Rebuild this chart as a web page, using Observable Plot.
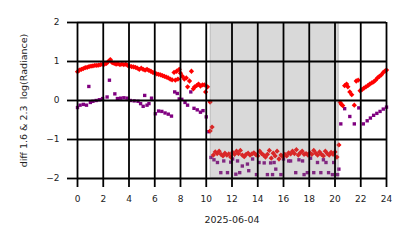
<!DOCTYPE html>
<html>
<head>
<meta charset="utf-8">
<script src="https://cdn.jsdelivr.net/npm/d3@7"></script>
<script src="https://cdn.jsdelivr.net/npm/@observablehq/plot@0.6"></script>
<style>
  html, body { margin: 0; padding: 0; background: #fff; }
  svg { font-family: "DejaVu Sans", sans-serif; }
</style>
</head>
<body>
<div id="chart"></div>
<script>
// ---- data (hour of day, value) ----
const redHours = [
  0.0,0.15,0.3,0.45,0.6,0.75,0.9,1.05,1.2,1.35,1.5,1.65,1.8,1.95,2.1,2.25,2.4,2.55,2.7,2.85,
  3.0,3.15,3.3,3.45,3.6,3.75,3.9,4.05,4.2,4.35,4.5,4.65,4.8,4.95,5.1,5.25,5.4,5.55,5.7,5.85,
  6.0,6.15,6.3,6.45,6.6,6.75,6.9,7.05,7.2,7.35,7.5,7.6,7.7,7.8,7.9,8.0,8.15,8.3,8.45,8.55,
  8.7,8.85,9.0,9.1,9.25,9.4,9.55,9.7,9.85,9.95,10.1,10.3,10.3,10.45,
  10.55,10.7,10.85,11.0,11.15,11.3,11.45,11.6,11.75,11.9,12.05,12.2,12.35,12.5,12.65,12.8,12.95,
  13.1,13.25,13.4,13.55,13.7,13.85,14.0,14.15,14.3,14.45,14.6,14.75,14.9,15.05,15.2,15.35,15.5,
  15.65,15.8,15.95,16.1,16.25,16.4,16.55,16.7,16.85,17.0,17.15,17.3,17.45,17.6,17.75,17.9,18.05,
  18.2,18.35,18.5,18.65,18.8,18.95,19.1,19.25,19.4,19.55,19.7,19.85,20.0,20.15,
  20.3,20.4,20.5,20.6,20.75,20.9,21.0,21.15,21.3,21.5,21.65,21.8,21.95,22.1,22.25,22.4,22.55,
  22.7,22.85,23.0,23.15,23.3,23.45,23.6,23.75,23.9,24.0
];
const redValues = [
  0.74,0.78,0.80,0.82,0.84,0.85,0.87,0.88,0.89,0.90,0.90,0.91,0.92,0.93,0.93,0.95,1.00,1.05,0.97,0.95,
  0.93,0.94,0.92,0.93,0.92,0.93,0.90,0.88,0.87,0.86,0.85,0.83,0.80,0.83,0.80,0.78,0.80,0.77,0.75,0.72,
  0.70,0.68,0.67,0.66,0.64,0.62,0.60,0.58,0.55,0.53,0.72,0.52,0.75,0.55,0.80,0.70,0.62,0.55,0.58,0.35,
  0.50,0.75,0.30,0.35,0.38,0.42,0.37,0.40,0.40,0.22,0.35,-0.04,-0.78,-0.68,
  -1.40,-1.32,-1.36,-1.30,-1.38,-1.42,-1.35,-1.40,-1.37,-1.45,-1.33,-1.38,-1.30,-1.36,-1.28,-1.40,-1.44,
  -1.38,-1.35,-1.40,-1.37,-1.34,-1.39,-1.42,-1.30,-1.36,-1.40,-1.45,-1.38,-1.28,-1.48,-1.35,-1.42,-1.30,
  -1.50,-1.40,-1.44,-1.38,-1.42,-1.34,-1.37,-1.30,-1.36,-1.26,-1.40,-1.34,-1.30,-1.38,-1.36,-1.40,-1.34,
  -1.38,-1.28,-1.35,-1.40,-1.32,-1.38,-1.42,-1.30,-1.36,-1.40,-1.33,-1.38,-1.32,-1.45,
  -1.14,-0.05,-0.10,-0.13,0.38,0.42,0.35,0.22,0.15,-0.12,0.50,0.52,0.25,0.28,0.32,0.35,0.38,
  0.42,0.45,0.48,0.52,0.58,0.62,0.66,0.72,0.76,0.78
];
const purpleHours = [
  0.0,0.2,0.45,0.7,0.88,1.0,1.2,1.45,1.7,1.95,2.3,2.48,2.9,3.1,3.35,3.6,3.85,4.1,4.4,4.7,
  4.9,5.1,5.22,5.4,5.55,5.75,6.05,6.3,6.55,6.8,7.05,7.3,7.55,7.75,7.9,8.1,8.35,8.55,8.8,9.05,
  9.3,9.55,9.75,10.0,10.2,
  10.37,10.6,10.87,11.13,11.36,11.65,11.9,12.05,12.3,12.43,12.6,12.8,13.2,13.3,13.6,13.9,14.1,
  14.5,14.75,15.0,15.15,15.27,15.4,15.8,16.0,16.4,16.55,16.95,17.2,17.48,17.6,17.85,18.1,18.35,
  18.64,18.9,19.1,19.3,19.5,19.8,19.9,20.2,20.3,
  20.45,20.75,21.15,21.5,21.85,22.2,22.5,22.75,23.0,23.25,23.5,23.75,24.0
];
const purpleValues = [
  -0.18,-0.12,-0.10,-0.12,0.36,-0.05,-0.02,0.0,0.02,0.05,0.09,0.52,0.17,0.05,0.06,0.07,0.06,0.0,-0.01,-0.02,
  -0.08,-0.15,0.13,-0.12,-0.08,0.06,-0.34,-0.27,-0.28,-0.32,-0.35,-0.40,0.22,0.18,0.04,0.03,-0.05,-0.12,0.22,-0.20,
  -0.24,-0.30,-0.26,-0.42,-0.80,
  -1.46,-1.52,-1.59,-1.85,-1.55,-1.85,-1.58,-1.50,-1.89,-1.55,-1.85,-1.68,-1.63,-1.80,-1.50,-1.90,-1.59,
  -1.60,-1.90,-1.60,-1.90,-1.59,-1.76,-1.90,-1.50,-1.55,-1.55,-1.85,-1.52,-1.55,-1.90,-1.85,-1.48,-1.85,
  -1.59,-1.85,-1.52,-1.59,-1.85,-1.90,-1.59,-1.90,-1.76,
  -0.60,-0.21,-0.41,-0.60,-0.19,-0.60,-0.52,-0.45,-0.38,-0.33,-0.28,-0.22,-0.17
];
const nightSpan = [10.35, 20.3];
const xTicks = [0,2,4,6,8,10,12,14,16,18,20,22,24];
const yTicks = [-2,-1,0,1,2];
const xLabel = "2025-06-04";
const yLabel = "diff 1.6 & 2.3  log(Radiance)";

const red = redHours.map((h, i) => ({h, v: redValues[i]}));
const purple = purpleHours.map((h, i) => ({h, v: purpleValues[i]}));
const night = [{x1: nightSpan[0], x2: nightSpan[1]}];

const fmt = d => d < 0 ? "\u2212" + (-d) : String(d);

const chart = Plot.plot({
  width: 414,
  height: 248,
  marginLeft: 77,
  marginRight: 28,
  marginTop: 22,
  marginBottom: 70,
  style: {fontFamily: "DejaVu Sans, sans-serif", fontSize: "9px", background: "#fff"},
  x: {domain: [0, 24], ticks: xTicks},
  y: {domain: [-2, 2], ticks: yTicks},
  marks: [
    Plot.dot(purple, {x: "h", y: "v", symbol: "square", r: 1.9, fill: "#800080", stroke: "none"}),
    Plot.dot(red, {x: "h", y: "v", symbol: "square", rotate: 45, r: 2.1, fill: "#ff0000", stroke: "none"}),
    Plot.rect(night, {x1: "x1", x2: "x2", fill: "#808080", fillOpacity: 0.3, stroke: "#808080", strokeOpacity: 0.3, strokeWidth: 1.5}),
    Plot.gridX(xTicks, {stroke: "black", strokeOpacity: 1, strokeWidth: 1.8}),
    Plot.gridY(yTicks, {stroke: "black", strokeOpacity: 1, strokeWidth: 1.8}),
    Plot.axisX({ticks: xTicks, tickSize: 9, tickPadding: 8, strokeWidth: 1.8, fontSize: 9, label: null, fill: "#222"}),
    Plot.axisY({ticks: yTicks, tickSize: 10, tickPadding: 8, strokeWidth: 1.8, fontSize: 9, label: null, tickFormat: fmt, fill: "#222"}),
    Plot.text([xLabel], {frameAnchor: "bottom", dy: 44, text: d => d, fontSize: 9.5, fill: "#222"}),
    Plot.text([yLabel], {frameAnchor: "left", dx: -54, rotate: -90, textAnchor: "middle", text: d => d, fontSize: 9.5, fill: "#222"})
  ]
});
document.getElementById("chart").appendChild(chart);
</script>
</body>
</html>
